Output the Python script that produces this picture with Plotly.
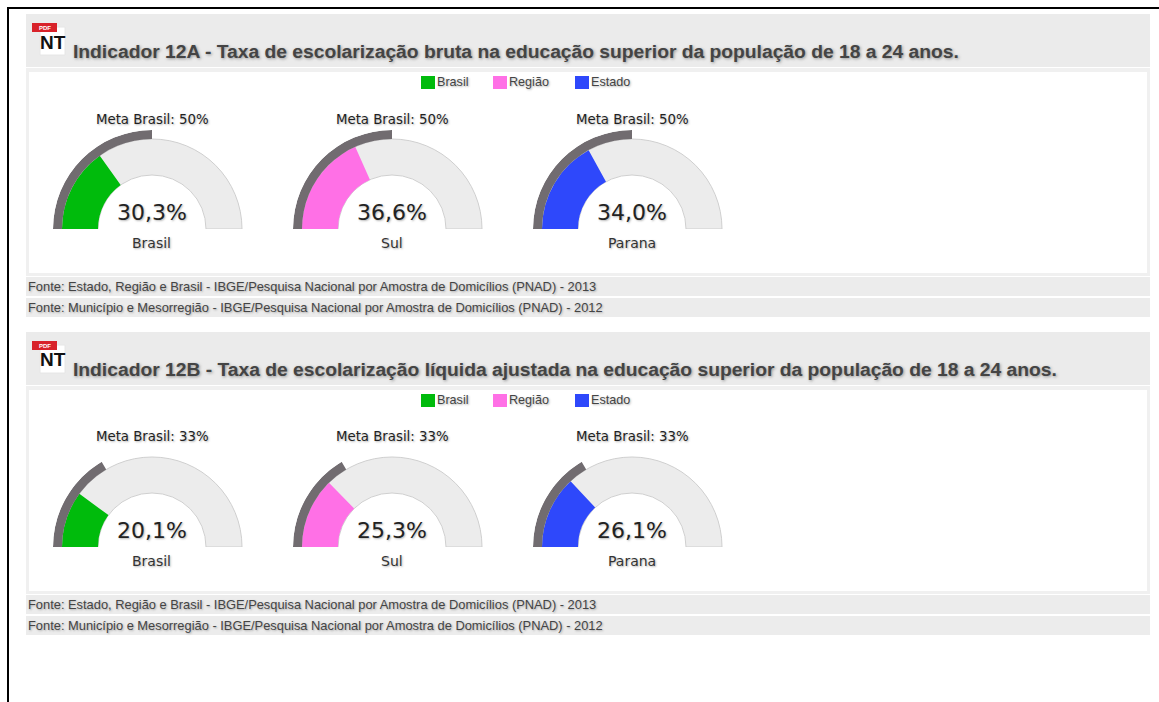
import plotly.graph_objects as go

W, H = 1159, 702

# ---- data ----
indicator_titles = [
    "Indicador 12A - Taxa de escolarização bruta na educação superior da população de 18 a 24 anos.",
    "Indicador 12B - Taxa de escolarização líquida ajustada na educação superior da população de 18 a 24 anos.",
]
gauge_names = ["Brasil", "Sul", "Parana"]
values_12a = [30.3, 36.6, 34.0]
values_12b = [20.1, 25.3, 26.1]
meta_values = [50, 33]
legend_labels = ["Brasil", "Região", "Estado"]
legend_colors = ["#00bb0c", "#ff70e6", "#2e48fb"]
source_lines = [
    "Fonte: Estado, Região e Brasil - IBGE/Pesquisa Nacional por Amostra de Domicílios (PNAD) - 2013",
    "Fonte: Município e Mesorregião - IBGE/Pesquisa Nacional por Amostra de Domicílios (PNAD) - 2012",
]
all_values = [values_12a, values_12b]

# ---- layout constants (pixels) ----
PANEL_TOPS = [14, 332]
GAUGE_X = [152, 392, 632]
R_IN, R_MID, R_OUT = 54, 90, 99
DEG_PER_PCT = 1.8  # 100 % spans the half circle
SANS = "Liberation Sans, Arial, sans-serif"
VERD = "DejaVu Sans, Verdana, sans-serif"
SOFT = "1px 1px 2px rgba(90,90,90,0.45)"


def px(x):
    return x / W


def py(y):
    return 1 - y / H


shapes, annotations = [], []


def rect(x0, y0, x1, y1, fill, line=None, lw=0):
    shapes.append(dict(type="rect", xref="paper", yref="paper", layer="below",
                       x0=px(x0), x1=px(x1), y0=py(y0), y1=py(y1), fillcolor=fill,
                       line=dict(color=line or fill, width=lw)))


def text(x, y, s, size, family=SANS, color="#333333", anchor="center", bold=False, shadow=SOFT):
    annotations.append(dict(xref="paper", yref="paper", x=px(x), y=py(y), text=f"<b>{s}</b>" if bold else s,
                            showarrow=False, xanchor=anchor, yanchor="middle",
                            font=dict(size=size, family=family, color=color, shadow=shadow)))


# page frame
rect(7, 7, W, 9, "#000000")
rect(7, 7, 9, H, "#000000")

fig = go.Figure()
subplot = 0
for p, top in enumerate(PANEL_TOPS):
    t = top - 0.5 * p  # second block's texts sit half a pixel higher
    # header band, chart panel, source bands
    rect(26, top, 1150, top + 53, "#ebebeb")
    rect(26, top + 54, 1150, top + 262, "#f0f0f0")
    rect(29, top + 58, 1147, top + 259, "#ffffff")
    rect(26, top + 263, 1150, top + 282, "#ececec")
    rect(26, top + 284, 1150, top + 303, "#ececec")
    # PDF / NT icon
    rect(40, top + 13, 65, top + 41, "#ffffff", "#e6e6e6", 1)
    rect(32, top + 9, 57, top + 18, "#d8222a")
    text(44.5, top + 13.5, "PDF", 6, SANS, "#ffffff", bold=True, shadow="none")
    text(52.5, top + 28, "NT", 19, SANS, "#111111", bold=True, shadow="none")
    # title
    text(71, t + 37.5, indicator_titles[p], 19.25, SANS, "#444444", "left", True,
         "1px 1px 3px rgba(90,90,90,0.6)")
    # legend
    for lx, tx, lab, col in zip([421, 493, 575], [435, 507, 589], legend_labels, legend_colors):
        rect(lx, top + 62, lx + 14, top + 75, col)
        text(tx, t + 68, lab, 12.6, SANS, "#444444", "left")
    # sources
    text(26, t + 273, source_lines[0], 12.87, SANS, "#444444", "left")
    text(26, t + 293.5, source_lines[1], 12.87, SANS, "#444444", "left")

    base_y = top + 215
    for g, cx in enumerate(GAUGE_X):
        subplot += 1
        name = "polar" if subplot == 1 else f"polar{subplot}"
        value = all_values[p][g]
        meta = meta_values[p]
        k = DEG_PER_PCT
        # whole scale, value and target as bars on one angular axis
        fig.add_trace(go.Barpolar(subplot=name, r=[R_MID - R_IN], base=[R_IN], theta=[50 * k], width=[100 * k],
                                  marker=dict(color="#ececec", line=dict(color="#cfcfcf", width=1)),
                                  hoverinfo="skip", showlegend=False))
        fig.add_trace(go.Barpolar(subplot=name, r=[R_MID - R_IN], base=[R_IN], theta=[value / 2 * k], width=[value * k],
                                  marker=dict(color=legend_colors[g], line=dict(width=0)),
                                  hoverinfo="skip", showlegend=False))
        fig.add_trace(go.Barpolar(subplot=name, r=[R_OUT - R_MID], base=[R_MID], theta=[meta / 2 * k], width=[meta * k],
                                  marker=dict(color="#716c70", line=dict(width=0)),
                                  hoverinfo="skip", showlegend=False))
        fig.layout[name] = dict(
            domain=dict(x=[px(cx - R_OUT), px(cx + R_OUT)], y=[py(base_y), py(base_y - R_OUT)]),
            sector=[0, 180], bgcolor="rgba(0,0,0,0)", barmode="overlay",
            radialaxis=dict(range=[0, R_OUT], visible=False),
            angularaxis=dict(thetaunit="degrees", direction="clockwise", rotation=180, visible=False),
        )
        text(cx, t + 105, f"Meta Brasil: {meta}%", 13.3, VERD, "#222222")
        text(cx, base_y - 17, f"{value:.1f}%".replace(".", ","), 22, VERD, "#222222")
        text(cx - 0.5, base_y + 14, gauge_names[g], 14, VERD, "#333333")

fig.update_layout(width=W, height=H, margin=dict(l=0, r=0, t=0, b=0), paper_bgcolor="#ffffff",
                  shapes=shapes, annotations=annotations, showlegend=False)
fig.write_html("out.html", config={"displayModeBar": False},
               post_script="document.body.style.margin='0';document.body.style.overflow='hidden';")
